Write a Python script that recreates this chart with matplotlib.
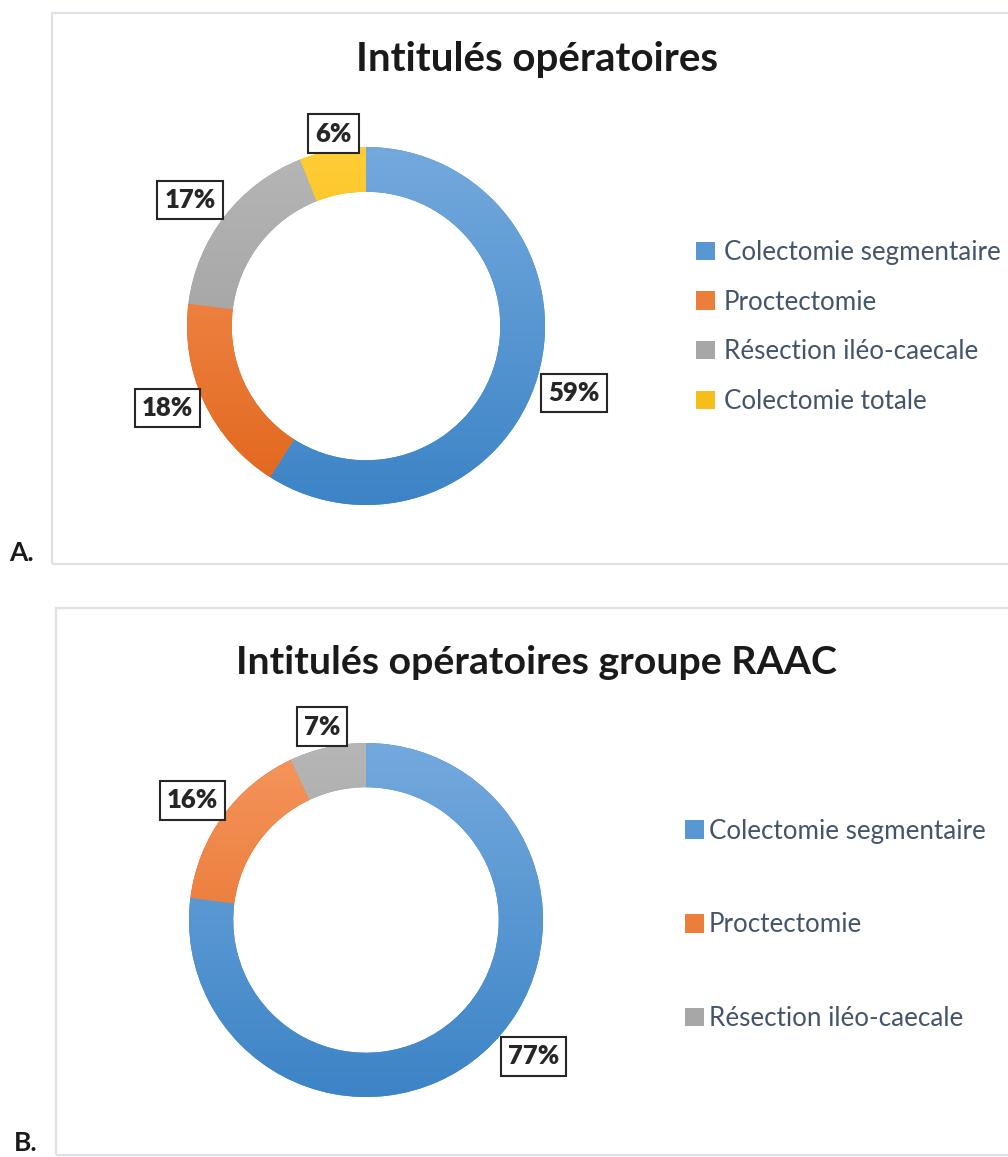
import numpy as np
import matplotlib.pyplot as plt
from matplotlib.patches import Rectangle, Patch
from matplotlib.colors import to_rgb

plt.rcParams['font.family'] = ['Lato', 'DejaVu Sans']

# data
cats_a = ['Colectomie segmentaire', 'Proctectomie', 'Résection iléo-caecale', 'Colectomie totale']
vals_a = [59, 18, 17, 6]
title_a = 'Intitulés opératoires'

cats_b = ['Colectomie segmentaire', 'Proctectomie', 'Résection iléo-caecale']
vals_b = [77, 16, 7]
title_b = 'Intitulés opératoires groupe RAAC'

# gradient colours (top, bottom) per category
grads = [('#74A9DD', '#3C84C6'),
         ('#F6965E', '#E1651A'),
         ('#B6B6B6', '#979797'),
         ('#FFCD36', '#ECAF00')]

W, H = 1008, 1157
fig = plt.figure(figsize=(W / 100, H / 100), dpi=100)


def fx(px):
    return px / W


def fy(py):
    return 1 - py / H


def mix(top, bot):
    return tuple((np.array(to_rgb(top)) + np.array(to_rgb(bot))) / 2)


def gradient_img(top, bottom, n=256):
    t = np.linspace(0, 1, n)[:, None]
    c0, c1 = np.array(to_rgb(top)), np.array(to_rgb(bottom))
    return (c0 * (1 - t) + c1 * t)[:, None, :]


def donut(cx, cy, r, values, label_pos):
    lim = 1.35
    side = 2 * lim * r
    ax = fig.add_axes([fx(cx - side / 2), fy(cy + side / 2), side / W, side / H])
    wedges, _ = ax.pie(values, startangle=90, counterclock=False, radius=1,
                       wedgeprops=dict(width=0.25, linewidth=0))
    for w, (top, bot) in zip(wedges, grads):
        w.set_facecolor(bot)
        im = ax.imshow(gradient_img(top, bot), extent=(-1, 1, -1, 1),
                       aspect='auto', zorder=2)
        im.set_clip_path(w)
    total = sum(values)
    cum = 0
    for v, (dang, rr) in zip(values, label_pos):
        mid = 90 - (cum + v / 2) / total * 360 + dang
        cum += v
        a = np.deg2rad(mid)
        ax.text(rr * np.cos(a), rr * np.sin(a), f'{v}%', ha='center', va='center',
                fontsize=18.5, fontweight='heavy', color='#262626', zorder=5,
                bbox=dict(boxstyle='square,pad=0.28', fc='white', ec='#262626', lw=1.5))
    ax.set_xlim(-lim, lim)
    ax.set_ylim(-lim, lim)
    ax.set_aspect('equal')
    ax.axis('off')
    return ax


# frames
for (x0, y0, y1) in [(52, 13, 564), (56, 608, 1155)]:
    fig.patches.append(Rectangle((fx(x0), fy(y1)), fx(W + 10 - x0), (y1 - y0) / H,
                                 transform=fig.transFigure, fill=False,
                                 ec='#DCE2E8', lw=1.6))

# panel A
donut(366, 326, 179, vals_a, [(-1.7, 1.22), (-2.8, 1.20), (2.2, 1.21), (-1.1, 1.09)])
fig.text(fx(537), fy(60), title_a, ha='center', va='center', fontsize=29,
         fontweight='bold', color='#1A1A1A')
handles_a = [Patch(facecolor=mix(*grads[i]), edgecolor='none') for i in range(len(cats_a))]
fig.legend(handles_a, cats_a, loc='center left', bbox_to_anchor=(fx(673), fy(327)),
           frameon=False, fontsize=18.7, labelcolor='#44546A', handlelength=0.7,
           handleheight=0.7, handletextpad=0.35, labelspacing=0.95)
fig.text(fx(9), fy(553), 'A.', fontsize=19, fontweight='bold', va='center', color='#1A1A1A')

# panel B
donut(366, 920, 177, vals_b, [(9.4, 1.22), (1.4, 1.19), (0.2, 1.12)])
fig.text(fx(536), fy(663), title_b, ha='center', va='center', fontsize=28.3,
         fontweight='bold', color='#1A1A1A')
handles_b = [Patch(facecolor=mix(*grads[i]), edgecolor='none') for i in range(len(cats_b))]
fig.legend(handles_b, cats_b, loc='center left', bbox_to_anchor=(fx(662), fy(925)),
           frameon=False, fontsize=18.7, labelcolor='#44546A', handlelength=0.7,
           handleheight=0.7, handletextpad=0.2, labelspacing=2.65)
fig.text(fx(14), fy(1143), 'B.', fontsize=19, fontweight='bold', va='center', color='#1A1A1A')

fig.savefig('out.png', dpi=100)
